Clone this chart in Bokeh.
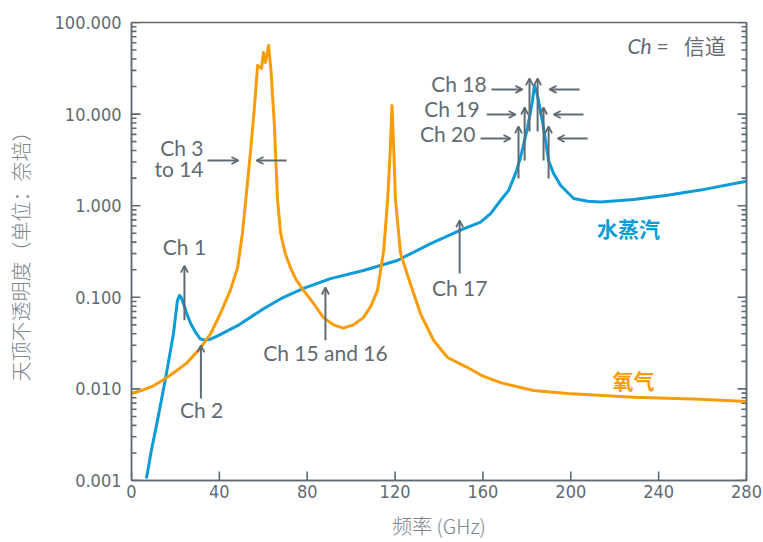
import math
from bokeh.plotting import figure
from bokeh.models import (LogAxis, FixedTicker, PrintfTickFormatter, Arrow, OpenHead,
                          ColumnDataSource, Range1d)
from bokeh.core.properties import value
from bokeh.embed import file_html
from bokeh.resources import INLINE

# ---------------- data ----------------
o2_freq = [0, 5, 10, 15.5, 20, 25, 31.4, 36, 40.5, 45, 48.3, 50.5, 52, 54, 56, 57.4, 59.2, 60.1,
           61, 62.4, 63.5, 65, 66.5, 67.9, 70, 72.4, 75, 78.3, 83, 87.4, 92, 96.5, 101, 105.6,
           109, 112, 114.8, 116.6, 117.8, 118.6, 119.4, 120.2, 122.5, 127, 131.6, 137.5, 143.9,
           153, 160, 168, 183, 198.5, 228.6, 259, 280]
o2_val = [0.0089, 0.0097, 0.0108, 0.013, 0.0155, 0.019, 0.028, 0.040, 0.0665, 0.119, 0.211, 0.50,
          1.14, 3.5, 12, 34, 31.5, 47, 36.6, 56, 30, 8, 1.14, 0.50, 0.30, 0.21, 0.155, 0.119,
          0.085, 0.060, 0.050, 0.046, 0.050, 0.060, 0.080, 0.119, 0.32, 1.14, 4, 12.4, 4, 1.14,
          0.30, 0.14, 0.066, 0.034, 0.022, 0.0171, 0.0138, 0.0117, 0.0096, 0.0089, 0.0081,
          0.0077, 0.0073]

h2o_freq = [6.8, 9, 11.8, 15.5, 19.1, 20.9, 21.9, 22.6, 23.7, 25.2, 26.9, 29, 31.4, 33.7, 36,
            39.2, 48.3, 60.1, 69.2, 78.3, 90.6, 105.6, 121, 136.2, 149.8, 158.9, 163.5, 168,
            171.7, 175, 177.1, 180.3, 182.6, 183.4, 184.3, 185.3, 187.6, 189.9, 192.2, 195.4,
            201.3, 207.7, 213.6, 228.6, 244, 259, 280]
h2o_val = [0.00105, 0.0021, 0.0045, 0.013, 0.040, 0.092, 0.105, 0.10, 0.085, 0.066, 0.052, 0.042,
           0.035, 0.034, 0.035, 0.038, 0.049, 0.075, 0.10, 0.125, 0.160, 0.196, 0.252, 0.386,
           0.54, 0.66, 0.82, 1.14, 1.47, 2.3, 3.36, 7.1, 14.1, 20.5, 18, 14.1, 7.1, 3.1, 2.24,
           1.66, 1.2, 1.12, 1.1, 1.17, 1.3, 1.48, 1.85]

x_ticks = [0, 40, 80, 120, 160, 200, 240, 280]
y_ticks = [0.001, 0.01, 0.1, 1, 10, 100]
y_minor = [m * 10.0 ** e for e in range(-3, 2) for m in range(2, 10)]

# annotation labels (centered)
lab_text = ["Ch 1", "Ch 2", "Ch 15 and 16", "Ch 17"]
lab_x = [24.1, 31.9, 88.3, 149.4]
lab_y = [0.359, 0.00596, 0.0249, 0.128]

# right-aligned labels
rlab_text = ["Ch 3", "to 14", "Ch 18", "Ch 19", "Ch 20"]
rlab_x = [32.8, 32.8, 161.7, 158.5, 156.6]
rlab_y = [4.31, 2.55, 21.6, 11.5, 6.14]

# arrows (head at end)
arr_x0 = [24.1, 31.6, 88.3, 149.4, 34.6, 70.6,
          163.9, 204.0, 161.7, 205.8, 158.9, 207.7,
          181.2, 184.9, 179.0, 187.6, 176.2, 189.9]
arr_x1 = [24.1, 31.6, 88.3, 149.4, 48.7, 56.9,
          178.0, 190.3, 174.9, 192.2, 172.6, 194.0,
          181.2, 184.9, 179.0, 187.6, 176.2, 189.9]
arr_y0 = [0.056, 0.00785, 0.034, 0.182, 3.11, 3.11,
          18.6, 18.6, 9.9, 9.9, 5.42, 5.42,
          6.46, 6.46, 3.11, 3.11, 1.98, 1.98]
arr_y1 = [0.222, 0.0298, 0.128, 0.69, 3.11, 3.11,
          18.6, 18.6, 9.9, 9.9, 5.42, 5.42,
          24.5, 24.5, 11.8, 11.8, 7.33, 7.33]

BLUE = "#0a9bd8"
ORANGE = "#fa9c0a"
GRAY = "#5f6a72"
LGRAY = "#7b858c"
TICK_FONT = "Liberation Sans Narrow, DejaVu Sans Condensed, sans-serif"
CJK_LIGHT = "Noto Sans CJK SC Light, Noto Sans CJK SC, sans-serif"

X0, X1 = 0, 280
Y0, Y1 = 0.001, 100
W, H = 763, 542
ML, MR, MT, MB = 131, 17, 22, 62

p = figure(width=W, height=H, x_range=Range1d(X0, X1), y_range=Range1d(Y0, Y1),
           y_axis_type="log", output_backend="svg", toolbar_location=None,
           min_border_left=ML, min_border_right=MR, min_border_top=MT, min_border_bottom=MB)
p.background_fill_color = "white"
p.border_fill_color = "white"
p.xgrid.grid_line_color = None
p.ygrid.grid_line_color = None
p.outline_line_color = GRAY
p.outline_line_width = 1.5

def style_axis(ax):
    ax.axis_line_color = GRAY
    ax.axis_line_width = 1.5
    ax.major_tick_line_color = None
    ax.minor_tick_line_color = None
    ax.major_tick_in = 0
    ax.major_tick_out = 0
    ax.minor_tick_in = 0
    ax.minor_tick_out = 0
    ax.major_label_text_color = GRAY
    ax.major_label_text_font = TICK_FONT
    ax.major_label_text_font_size = "18px"

# y axis
ya = p.yaxis[0]
ya.ticker = FixedTicker(ticks=y_ticks, minor_ticks=y_minor)
ya.formatter = PrintfTickFormatter(format="%.3f")
style_axis(ya)
ya.major_label_standoff = 10
ya.axis_label = "天顶不透明度（单位：奈培）"
ya.axis_label_text_font = CJK_LIGHT
ya.axis_label_text_font_size = "20px"
ya.axis_label_text_font_style = "normal"
ya.axis_label_text_color = LGRAY
ya.axis_label_standoff = 17

# x axis
xa = p.xaxis[0]
xa.ticker = FixedTicker(ticks=x_ticks, minor_ticks=[])
style_axis(xa)
xa.major_label_standoff = 4
xa.axis_label = "频率 (GHz)"
xa.axis_label_text_font = CJK_LIGHT
xa.axis_label_text_font_size = "20px"
xa.axis_label_text_font_style = "normal"
xa.axis_label_text_color = LGRAY
xa.axis_label_standoff = 10

# right axis (line only)
ra = LogAxis(ticker=FixedTicker(ticks=y_ticks, minor_ticks=y_minor))
style_axis(ra)
ra.major_label_text_font_size = "1px"
ra.major_label_text_alpha = 0
ra.major_label_standoff = 0
p.add_layout(ra, "right")

# inward ticks as short segments inside the frame (pixel lengths -> data units)
fw, fh = W - ML - MR, H - MT - MB
dx_major = 9 * (X1 - X0) / fw
dx_minor = 5 * (X1 - X0) / fw
fy_major = 10 ** (9 * math.log10(Y1 / Y0) / fh)
seg_kw = dict(line_color=GRAY, line_width=1.6)
p.segment(x0=[X0] * len(y_ticks), y0=y_ticks, x1=[X0 + dx_major] * len(y_ticks), y1=y_ticks, **seg_kw)
p.segment(x0=[X0] * len(y_minor), y0=y_minor, x1=[X0 + dx_minor] * len(y_minor), y1=y_minor, **seg_kw)
p.segment(x0=[X1] * len(y_ticks), y0=y_ticks, x1=[X1 - dx_major] * len(y_ticks), y1=y_ticks, **seg_kw)
p.segment(x0=[X1] * len(y_minor), y0=y_minor, x1=[X1 - dx_minor] * len(y_minor), y1=y_minor, **seg_kw)
p.segment(x0=x_ticks, y0=[Y0] * len(x_ticks), x1=x_ticks, y1=[Y0 * fy_major] * len(x_ticks), **seg_kw)

# curves
p.line(h2o_freq, h2o_val, line_color=BLUE, line_width=3, line_join="round")
p.line(o2_freq, o2_val, line_color=ORANGE, line_width=3, line_join="round")

# arrows
asrc = ColumnDataSource(dict(x0=arr_x0, y0=arr_y0, x1=arr_x1, y1=arr_y1))
p.add_layout(Arrow(end=OpenHead(size=7, line_color=GRAY, line_width=1.8),
                   x_start="x0", y_start="y0", x_end="x1", y_end="y1",
                   line_color=GRAY, line_width=2, source=asrc))

# labels
p.text(x=lab_x, y=lab_y, text=lab_text, text_font=value("Lato"), text_font_size="21px",
       text_color=GRAY, text_align="center", text_baseline="middle")
p.text(x=rlab_x, y=rlab_y, text=rlab_text, text_font=value("Lato"), text_font_size="21px",
       text_color=GRAY, text_align="right", text_baseline="middle")

# Ch = 信道
p.text(x=[236.8], y=[56.1], text=["Ch"], text_font=value("Lato"), text_font_size="21px",
       text_font_style="italic", text_color=GRAY, text_align="right", text_baseline="middle")
p.text(x=[239.0], y=[56.1], text=["="], text_font=value("Lato"), text_font_size="21px",
       text_color=GRAY, text_align="left", text_baseline="middle")
p.text(x=[270.5], y=[56.1], text=["信道"], text_font=value("Noto Sans CJK SC"),
       text_font_size="21px", text_color=GRAY, text_align="right", text_baseline="middle")

# series names
p.text(x=[226.3], y=[0.564], text=["水蒸汽"], text_font=value("Noto Sans CJK SC"),
       text_font_size="21px", text_font_style="bold", text_color=BLUE,
       text_align="center", text_baseline="middle")
p.text(x=[228.6], y=[0.0124], text=["氧气"], text_font=value("Noto Sans CJK SC"),
       text_font_size="21px", text_font_style="bold", text_color=ORANGE,
       text_align="center", text_baseline="middle")

open("out.html", "w").write(file_html(p, INLINE))
